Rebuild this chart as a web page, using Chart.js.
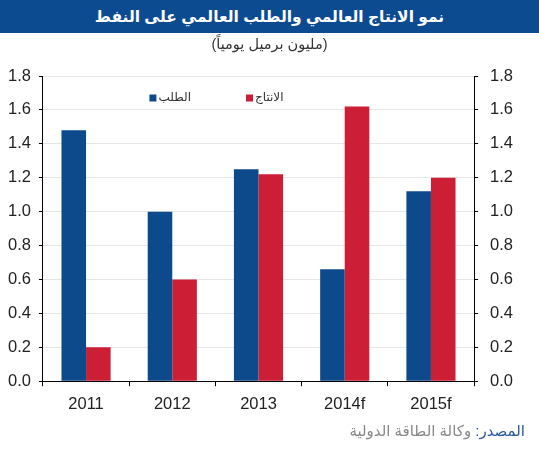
<!DOCTYPE html>
<html>
<head>
<meta charset="utf-8">
<title>نمو الانتاج العالمي والطلب العالمي على النفط</title>
<script src="https://cdn.jsdelivr.net/npm/chart.js"></script>
<style>
  body { margin: 0; background: #fff; font-family: "Liberation Sans", "DejaVu Sans", sans-serif; }
  #wrap { position: relative; width: 539px; height: 450px; overflow: hidden; }
  #titlebar { position: absolute; left: 0; top: 0; width: 539px; height: 33px; background: #0d4b91;
    color: #fff; font-weight: bold; font-size: 15.5px; line-height: 33px; text-align: center; direction: rtl; }
  #subtitle { position: absolute; left: 0; top: 36px; width: 539px; text-align: center; font-size: 14.5px;
    color: #333; direction: rtl; }
  #source { position: absolute; right: 14px; top: 422px; font-size: 15px; color: #888; direction: rtl; }
  #source span { color: #2a5a9a; }
  canvas { position: absolute; left: 0; top: 0; }
</style>
</head>
<body>
<div id="wrap">
  <canvas id="oilChart" width="539" height="450"></canvas>
  <div id="titlebar">نمو الانتاج العالمي والطلب العالمي على النفط</div>
  <div id="subtitle">(مليون برميل يومياً)</div>
  <div id="source"><span>المصدر:</span> وكالة الطاقة الدولية</div>
</div>
<script>
// السنوات (f = توقعات)
const years = ['2011', '2012', '2013', '2014f', '2015f'];
// الطلب العالمي على النفط
const demand = [1.48, 1.0, 1.25, 0.66, 1.12];
// الانتاج العالمي
const production = [0.2, 0.6, 1.22, 1.62, 1.2];
const yTicks = [0, 0.2, 0.4, 0.6, 0.8, 1.0, 1.2, 1.4, 1.6, 1.8];

const blue = '#0d4a8c';
const red = '#cc1f36';

// legend داخل منطقة الرسم
const innerLegend = {
  id: 'innerLegend',
  afterDraw(chart) {
    const { ctx, chartArea } = chart;
    const w = chartArea.right - chartArea.left;
    const spots = [0.247, 0.471];
    ctx.save();
    ctx.font = '12px "Liberation Sans", "DejaVu Sans", sans-serif';
    ctx.textBaseline = 'middle';
    chart.data.datasets.forEach((ds, i) => {
      const x = chartArea.left + w * spots[i];
      const y = chartArea.top + 22;
      ctx.fillStyle = ds.backgroundColor;
      ctx.fillRect(x, y - 3.5, 7, 7);
      ctx.fillStyle = '#333';
      ctx.textAlign = 'left';
      ctx.fillText(ds.label, x + 9, y);
    });
    ctx.restore();
  }
};

const tickFont = { family: '"Liberation Sans", Arial, sans-serif', size: 16.5 };

new Chart(document.getElementById('oilChart'), {
  type: 'bar',
  data: {
    labels: years,
    datasets: [
      { label: 'الطلب', data: demand, backgroundColor: blue, yAxisID: 'y',
        categoryPercentage: 0.57, barPercentage: 1.0 },
      { label: 'الانتاج', data: production, backgroundColor: red, yAxisID: 'y',
        categoryPercentage: 0.57, barPercentage: 1.0 }
    ]
  },
  options: {
    responsive: false,
    animation: false,
    layout: { padding: { top: 76, bottom: 28, left: 0, right: 14 } },
    plugins: { legend: { display: false }, tooltip: { enabled: false } },
    scales: {
      x: {
        grid: { offset: true, drawOnChartArea: false, tickLength: 5, tickColor: '#000' },
        border: { color: '#000' },
        ticks: { color: '#222', font: tickFont, padding: 8 }
      },
      y: {
        position: 'left', min: 0, max: 1.8,
        afterBuildTicks: axis => { axis.ticks = yTicks.map(v => ({ value: v })); },
        grid: { color: '#e6e6e6', tickLength: 4, tickColor: '#000' },
        border: { color: '#000' },
        ticks: { color: '#222', font: tickFont, padding: 8, callback: v => v.toFixed(1) }
      },
      y2: {
        position: 'right', min: 0, max: 1.8,
        afterBuildTicks: axis => { axis.ticks = yTicks.map(v => ({ value: v })); },
        grid: { drawOnChartArea: false, tickLength: 4, tickColor: '#000' },
        border: { color: '#000' },
        ticks: { color: '#222', font: tickFont, padding: 12, callback: v => v.toFixed(1) }
      }
    }
  },
  plugins: [innerLegend]
});
</script>
</body>
</html>
